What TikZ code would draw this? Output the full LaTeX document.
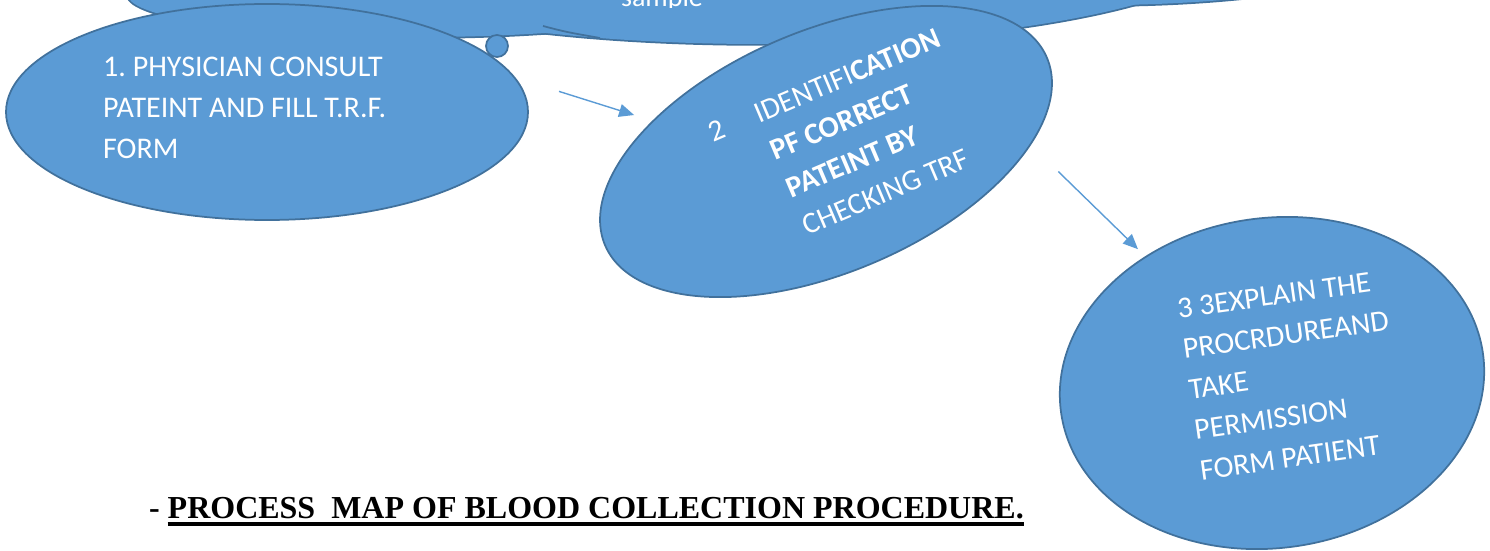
\documentclass[tikz,border=0pt]{standalone}
\usepackage{fontspec}
\setmainfont{Carlito}
\newfontfamily\titlefont{Liberation Serif}
\usetikzlibrary{shapes.geometric,arrows.meta}
\definecolor{puff}{HTML}{5B9BD5}
\definecolor{rim}{HTML}{41719C}
\frenchspacing
\tikzset{
  bubble/.style={ellipse, fill=puff, draw=rim, line width=1.75pt, inner sep=0pt, outer sep=0pt},
  steptext/.style={text=white, align=left, inner sep=0pt, font=\fontsize{30}{40.8}\selectfont},
  maptitle/.style={anchor=base west, inner sep=0pt, font=\titlefont\bfseries\fontsize{32}{36}\selectfont},
  flow/.style={puff, line width=1.4pt, -{Triangle[length=15pt,width=13pt]}}
}
\begin{document}
\begin{tikzpicture}[x=1pt, y=-1pt]
\useasboundingbox (0,0) rectangle (1490,551);
\clip (0,0) rectangle (1490,551);

% cloud at the top, cut by the page edge
\foreach \cx/\cy/\rx/\ry in {420/-5/292/42, 760/-60/478/104, 1100/-100/400/105}
  \draw [rim, line width=3.5pt] (\cx,\cy) ellipse [x radius=\rx, y radius=\ry];
\foreach \cx/\cy/\rx/\ry in {420/-5/292/42, 760/-60/478/104, 1100/-100/400/105}
  \fill [puff] (\cx,\cy) ellipse [x radius=\rx, y radius=\ry];
\draw [rim, line width=1.75pt] (543,26) .. controls (566,32) .. (600,38);
\begin{scope}
\clip (560,-20) rectangle (760,8);
\node (cloudtext) at (662,7) [anchor=base, text=white, inner sep=0pt, font=\fontsize{28}{30}\selectfont] {sample};
\end{scope}
\node (tail) at (497,46) [circle, fill=puff, draw=rim, line width=1.75pt, minimum size=22pt, inner sep=0pt] {};

% steps
\node (p1) at (267,112) [bubble, minimum width=522pt, minimum height=216pt] {};
\node (p2) at (826,151.5) [bubble, rotate=23, minimum width=480pt, minimum height=242pt] {};
\node (p3) at (1272,383) [bubble, rotate=8, minimum width=426pt, minimum height=330pt] {};

\node (t1) at (103,57) [steptext, anchor=north west] {1. PHYSICIAN CONSULT\\PATEINT AND FILL T.R.F.\\FORM};
\node (t2) at (752,105) [steptext, anchor=north west, rotate=23] {\llap{2\hspace{35pt}}IDENTIFI\textbf{CATION}\\\textbf{PF CORRECT}\\\textbf{PATEINT BY}\\CHECKING TRF};
\node (t3) at (1176,299) [steptext, anchor=north west, rotate=8] {3 3EXPLAIN THE\\PROCRDUREAND\\TAKE\\PERMISSION\\FORM PATIENT};

\path [flow] (p1.8) edge [shorten <=47pt, shorten >=20pt] (p2.147);
\path [flow] (p2.-21) edge [shorten <=39pt, shorten >=11pt] (p3.127);

% title
\node (dash) at (149,518) [maptitle] {-};
\node (title) at (167.5,518) [maptitle] {PROCESS\ \ MAP OF BLOOD COLLECTION PROCEDURE.};
\draw [line width=4.2pt] ([yshift=-5.6pt]title.base west) -- ([yshift=-5.6pt]title.base east);
\end{tikzpicture}
\end{document}
